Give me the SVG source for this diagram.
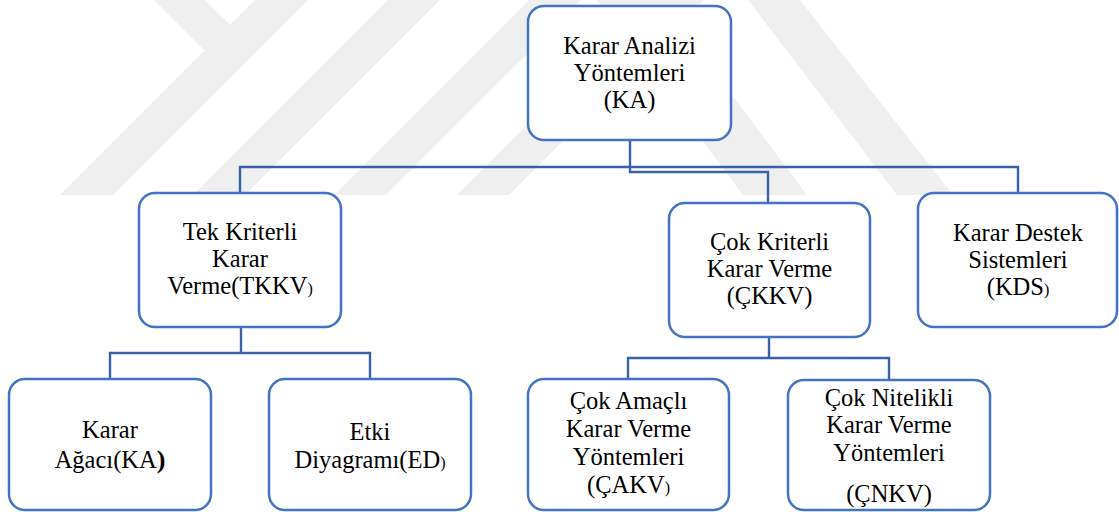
<svg xmlns="http://www.w3.org/2000/svg" width="1119" height="512" viewBox="0 0 1119 512">
<style>
.wm{fill:#efefef;stroke:none}
.box{fill:#ffffff;stroke:#4472C4;stroke-width:2.5}
.con{fill:none;stroke:#3A62AA;stroke-width:2.4;stroke-linejoin:miter}
text{font-family:"Liberation Serif","Times New Roman",serif;font-size:24.5px;fill:#000000;text-anchor:middle}
.sp{font-size:16px}
</style>
<rect width="1119" height="512" fill="#ffffff"/>
<g id="watermark">
<polygon class="wm" points="154,0 205,0 230,25 255,0 308,0 113,195 60,195 204.5,50.5"/>
<polygon class="wm" points="388,0 440,0 245,195 193,195"/>
<polygon class="wm" points="529,0 581,0 386,195 334,195"/>
<polygon class="wm" points="652,0 704,0 509,195 457,195"/>
<polygon class="wm" points="597,0 661,0 807,195 743,195"/>
<polygon class="wm" points="748,0 800,0 953,195 897,195"/>
</g>
<g id="connectors">
<path class="con" d="M630,140 V172 H768 V203"/>
<path class="con" d="M240,193 V167 H1018 V193"/>
<path class="con" d="M241,327 V353 M110,379 V353 H370 V379"/>
<path class="con" d="M769,337 V358 M628,379 V358 H889 V380"/>
</g>
<g id="node-ka">
<rect class="box" x="528" y="6" width="203" height="134" rx="16"/>
<text x="629.5" y="54">Karar Analizi</text>
<text x="629.5" y="81">Yöntemleri</text>
<text x="629.5" y="108">(KA)</text>
</g>
<g id="node-tkkv">
<rect class="box" x="139" y="193" width="202" height="134" rx="16"/>
<text x="240" y="240">Tek Kriterli</text>
<text x="240" y="267">Karar</text>
<text x="240" y="294">Verme(TKKV<tspan class="sp">)</tspan></text>
</g>
<g id="node-ckkv">
<rect class="box" x="669" y="203" width="201" height="134" rx="16"/>
<text x="769.5" y="250">Çok Kriterli</text>
<text x="769.5" y="277">Karar Verme</text>
<text x="769.5" y="304">(ÇKKV)</text>
</g>
<g id="node-kds">
<rect class="box" x="918" y="193" width="199" height="134" rx="16"/>
<text x="1018" y="241">Karar Destek</text>
<text x="1018" y="268">Sistemleri</text>
<text x="1018" y="295">(KDS<tspan class="sp">)</tspan></text>
</g>
<g id="node-agac">
<rect class="box" x="9" y="379" width="202" height="131" rx="16"/>
<text x="110" y="438">Karar</text>
<text x="110" y="468">Ağacı(KA<tspan style="font-size:26px;font-weight:bold">)</tspan></text>
</g>
<g id="node-etki">
<rect class="box" x="269" y="379" width="202" height="131" rx="16"/>
<text x="370" y="440">Etki</text>
<text x="370" y="468">Diyagramı(ED<tspan class="sp">)</tspan></text>
</g>
<g id="node-cakv">
<rect class="box" x="528" y="379" width="201" height="131" rx="16"/>
<text x="628.5" y="409">Çok Amaçlı</text>
<text x="628.5" y="437">Karar Verme</text>
<text x="628.5" y="465">Yöntemleri</text>
<text x="628.5" y="493">(ÇAKV<tspan class="sp">)</tspan></text>
</g>
<g id="node-cnkv">
<rect class="box" x="788" y="380" width="202" height="130" rx="16"/>
<text x="889" y="406">Çok Nitelikli</text>
<text x="889" y="433">Karar Verme</text>
<text x="889" y="461">Yöntemleri</text>
<text x="889" y="502">(ÇNKV)</text>
</g>
</svg>
